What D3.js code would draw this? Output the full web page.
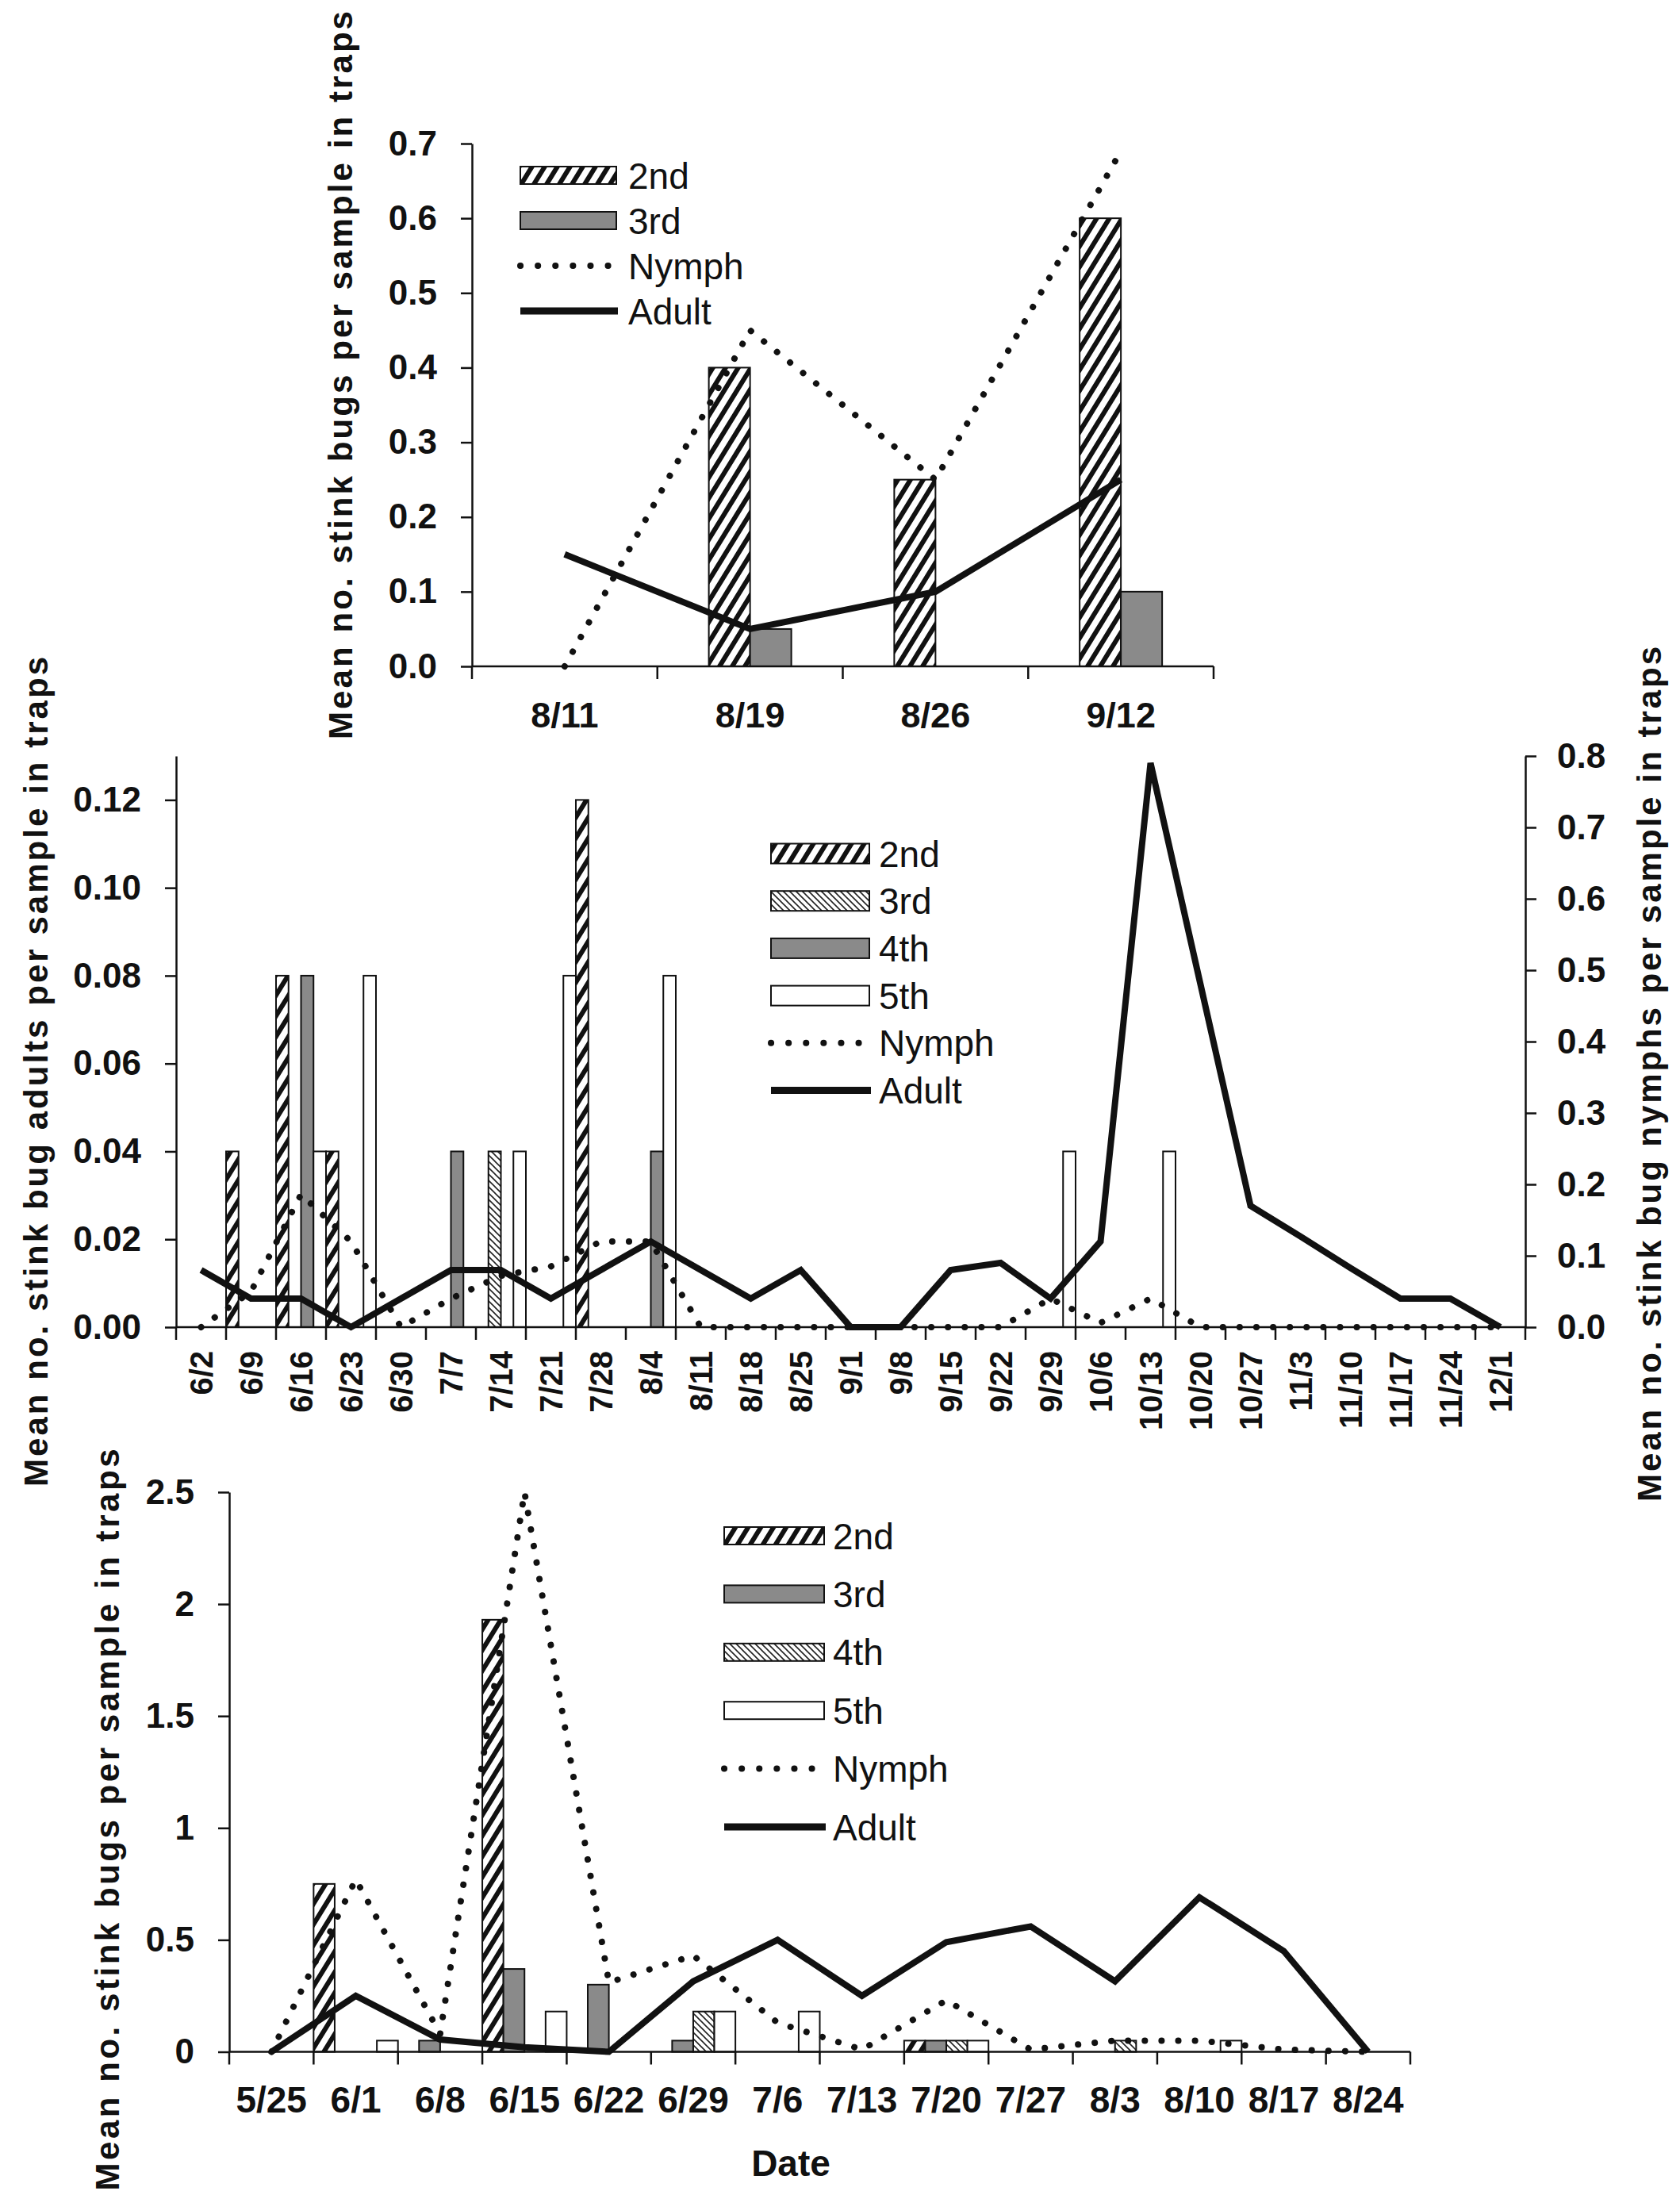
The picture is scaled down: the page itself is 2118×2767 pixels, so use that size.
<!DOCTYPE html>
<html><head><meta charset="utf-8">
<script src="https://cdn.jsdelivr.net/npm/d3@7"></script>
<style>
body{margin:0;background:#fff}
svg{display:block}
text{font-family:"Liberation Sans",Arial,sans-serif;fill:#111}
</style>
</head><body>
<script>
// ---------------- DATA ----------------
// Top panel
const topDates = ["8/11","8/19","8/26","9/12"];
const top2nd   = [0, 0.4, 0.25, 0.6];
const top3rd   = [0, 0.05, 0, 0.1];
const topNymph = [0, 0.45, 0.25, 0.69];
const topAdult = [0.15, 0.05, 0.1, 0.25];
const topYTicks = [0,0.1,0.2,0.3,0.4,0.5,0.6,0.7];

// Middle panel
const midDates = ["6/2","6/9","6/16","6/23","6/30","7/7","7/14","7/21","7/28","8/4","8/11","8/18","8/25","9/1","9/8","9/15","9/22","9/29","10/6","10/13","10/20","10/27","11/3","11/10","11/17","11/24","12/1"];
const mid2nd = [0,0.04,0.08,0.04,0,0,0,0,0.12,0,0,0,0,0,0,0,0,0,0,0,0,0,0,0,0,0,0];
const mid3rd = [0,0,0,0,0,0,0.04,0,0,0,0,0,0,0,0,0,0,0,0,0,0,0,0,0,0,0,0];
const mid4th = [0,0,0.08,0,0,0.04,0,0,0,0.04,0,0,0,0,0,0,0,0,0,0,0,0,0,0,0,0,0];
const mid5th = [0,0,0.04,0.08,0,0,0.04,0.08,0,0.08,0,0,0,0,0,0,0,0.04,0,0.04,0,0,0,0,0,0,0];
const midNymph = [0,0.05,0.186,0.12,0,0.04,0.072,0.085,0.12,0.12,0,0,0,0,0,0,0,0.04,0.006,0.04,0,0,0,0,0,0,0];
const midAdult = [0.08,0.04,0.04,0,0.04,0.08,0.08,0.04,0.08,0.12,0.08,0.04,0.08,0,0,0.08,0.09,0.04,0.12,0.79,0.48,0.17,0.127,0.083,0.04,0.04,0];
const midLeftTicks = [0,0.02,0.04,0.06,0.08,0.10,0.12];
const midRightTicks = [0,0.1,0.2,0.3,0.4,0.5,0.6,0.7,0.8];

// Bottom panel
const botDates = ["5/25","6/1","6/8","6/15","6/22","6/29","7/6","7/13","7/20","7/27","8/3","8/10","8/17","8/24"];
const bot2nd = [0,0.75,0,1.93,0,0,0,0,0.05,0,0,0,0,0];
const bot3rd = [0,0,0.05,0.37,0.3,0.05,0,0,0.05,0,0,0,0,0];
const bot4th = [0,0,0,0,0,0.18,0,0,0.05,0,0.05,0,0,0];
const bot5th = [0,0.05,0,0.18,0,0.18,0.18,0,0.05,0,0,0.05,0,0];
const botNymph = [0,0.77,0.08,2.5,0.31,0.43,0.13,0.01,0.23,0.01,0.05,0.05,0.01,0];
const botAdult = [0,0.25,0.055,0.02,0,0.315,0.5,0.25,0.49,0.56,0.315,0.69,0.45,0];
const botYTicks = [0,0.5,1,1.5,2,2.5];

// ---------------- DRAW ----------------
const W = 2118, H = 2767;
const INK = "#111", GRAY = "#8a8a8a";
const svg = d3.select("body").append("svg").attr("width", W).attr("height", H);
svg.append("rect").attr("width", W).attr("height", H).attr("fill", "#fff");
const defs = svg.append("defs");

// heavy upward diagonal hatch (2nd instar)
const ph = defs.append("pattern").attr("id","hatch2").attr("patternUnits","userSpaceOnUse")
  .attr("width",16).attr("height",26);
ph.append("rect").attr("width",16).attr("height",26).attr("fill","#fff");
ph.append("path").attr("d","M-4,32.5L20,-6.5M12,32.5L36,-6.5M-20,32.5L4,-6.5")
  .attr("stroke",INK).attr("stroke-width",6);
// fine downward diagonal hatch
const pf = defs.append("pattern").attr("id","hatchFine").attr("patternUnits","userSpaceOnUse")
  .attr("width",8).attr("height",8);
pf.append("rect").attr("width",8).attr("height",8).attr("fill","#fff");
pf.append("path").attr("d","M-2,-2L10,10M-2,6L2,10M6,-2L10,2")
  .attr("stroke","#222").attr("stroke-width",1.6);

function styleAxis(g, size) {
  g.attr("font-size", null).attr("font-family", null);
  g.selectAll("path,line").attr("stroke", INK).attr("stroke-width", 2.5);
  g.selectAll("text").style("font-size", size + "px").style("font-weight", "bold").attr("fill", INK);
}

function drawPanel(o) {
  const g = svg.append("g");
  const x = d3.scaleBand().domain(o.dates).range([o.x0, o.x1]).padding(0);
  const y = d3.scaleLinear().domain(o.yDomain).range([o.yBot, o.yTop]);
  const yLine = o.yLineDomain ? d3.scaleLinear().domain(o.yLineDomain).range([o.yBot, o.yTop]) : y;
  const sub = d3.scaleBand().domain(o.series.map(s => s.key)).range(o.subRange(x.bandwidth())).padding(0);

  // bars
  o.series.forEach(s => {
    const data = o.dates.map((d, i) => ({ d, v: s.values[i] })).filter(e => e.v > 0);
    g.append("g").selectAll("rect").data(data).join("rect")
      .attr("x", e => x(e.d) + sub(s.key))
      .attr("width", sub.bandwidth())
      .attr("y", e => y(e.v))
      .attr("height", e => y(0) - y(e.v))
      .attr("fill", s.fill).attr("stroke", INK).attr("stroke-width", 2);
  });

  // axes
  const yAx = g.append("g").attr("transform", `translate(${o.x0},0)`)
    .call(d3.axisLeft(y).tickValues(o.yTicks).tickFormat(o.yFmt).tickSize(14).tickSizeOuter(0).tickPadding(30));
  styleAxis(yAx, 44);
  if (o.yLineDomain) {
    const rAx = g.append("g").attr("transform", `translate(${o.x1},0)`)
      .call(d3.axisRight(yLine).tickValues(o.yRightTicks).tickFormat(d3.format(".1f")).tickSize(14).tickSizeOuter(0).tickPadding(26));
    styleAxis(rAx, 44);
  }
  g.append("line").attr("x1", o.x0).attr("x2", o.x1).attr("y1", o.yBot).attr("y2", o.yBot)
    .attr("stroke", INK).attr("stroke-width", 2.5);
  g.append("g").selectAll("line").data(d3.range(o.dates.length + 1)).join("line")
    .attr("x1", i => o.x0 + i * x.step()).attr("x2", i => o.x0 + i * x.step())
    .attr("y1", o.yBot).attr("y2", o.yBot + 16)
    .attr("stroke", INK).attr("stroke-width", 2.5);

  // x labels
  const cx = d => x(d) + x.bandwidth() / 2;
  if (o.rotateLabels) {
    g.append("g").selectAll("text").data(o.dates).join("text")
      .attr("transform", d => `translate(${cx(d)},${o.labelY}) rotate(-90)`)
      .attr("text-anchor", "end").attr("dy", "0.35em")
      .style("font-size", o.labelSize + "px").style("font-weight", "bold")
      .text(d => d);
  } else {
    g.append("g").selectAll("text").data(o.dates).join("text")
      .attr("x", cx).attr("y", o.labelY).attr("text-anchor", "middle").attr("dy", "0.35em")
      .style("font-size", o.labelSize + "px").style("font-weight", "bold")
      .text(d => d);
  }

  // lines
  const line = d3.line().x((v, i) => cx(o.dates[i])).y(v => yLine(v));
  g.append("path").datum(o.nymph).attr("d", line).attr("fill", "none")
    .attr("stroke", INK).attr("stroke-width", 8).attr("stroke-linecap", "round")
    .attr("stroke-dasharray", "0.1,21");
  g.append("path").datum(o.adult).attr("d", line).attr("fill", "none")
    .attr("stroke", INK).attr("stroke-width", 8).attr("stroke-linejoin", "miter");
}

function legend(items, x0, x1, textX, y0, step, sh) {
  const g = svg.append("g");
  items.forEach((it, i) => {
    const yy = y0 + i * step;
    if (it.type === "bar") {
      g.append("rect").attr("x", x0).attr("y", yy - sh / 2).attr("width", x1 - x0).attr("height", sh)
        .attr("fill", it.fill).attr("stroke", INK).attr("stroke-width", 2);
    } else if (it.type === "dot") {
      g.append("line").attr("x1", x0).attr("x2", x1 - 4).attr("y1", yy).attr("y2", yy)
        .attr("stroke", INK).attr("stroke-width", 8).attr("stroke-linecap", "round").attr("stroke-dasharray", "0.1,22");
    } else {
      g.append("line").attr("x1", x0).attr("x2", x1 + 2).attr("y1", yy).attr("y2", yy)
        .attr("stroke", INK).attr("stroke-width", 9);
    }
    g.append("text").attr("x", textX).attr("y", yy).attr("dy", "0.36em")
      .style("font-size", "46px").text(it.label);
  });
}

function vTitle(txt, x, yc, len) {
  svg.append("text").attr("transform", `translate(${x},${yc}) rotate(-90)`)
    .attr("text-anchor", "middle").style("font-size", "42px").style("font-weight", "bold")
    .attr("textLength", len).attr("lengthAdjust", "spacing").text(txt);
}

// Top panel
drawPanel({
  dates: topDates, x0: 595, x1: 1530, yTop: 181, yBot: 840, yDomain: [0, 0.7],
  yTicks: topYTicks, yFmt: d3.format(".1f"),
  subRange: bw => [bw / 2 - 52, bw / 2 + 52],
  series: [{ key: "2nd", values: top2nd, fill: "url(#hatch2)" }, { key: "3rd", values: top3rd, fill: GRAY }],
  nymph: topNymph, adult: topAdult, labelY: 901, labelSize: 45, rotateLabels: false
});
legend([{ label: "2nd", type: "bar", fill: "url(#hatch2)" }, { label: "3rd", type: "bar", fill: GRAY },
        { label: "Nymph", type: "dot" }, { label: "Adult", type: "line" }], 656, 777, 792, 221, 57, 22);
vTitle("Mean no. stink bugs per sample in traps", 444, 473, 918);

// Middle panel
drawPanel({
  dates: midDates, x0: 222, x1: 1923, yTop: 953, yBot: 1673, yDomain: [0, 0.13], yLineDomain: [0, 0.8],
  yTicks: midLeftTicks, yFmt: d3.format(".2f"), yRightTicks: midRightTicks,
  subRange: bw => [0, bw],
  series: [{ key: "2nd", values: mid2nd, fill: "url(#hatch2)" }, { key: "3rd", values: mid3rd, fill: "url(#hatchFine)" },
           { key: "4th", values: mid4th, fill: GRAY }, { key: "5th", values: mid5th, fill: "#fff" }],
  nymph: midNymph, adult: midAdult, labelY: 1703, labelSize: 40, rotateLabels: true
});
legend([{ label: "2nd", type: "bar", fill: "url(#hatch2)" }, { label: "3rd", type: "bar", fill: "url(#hatchFine)" },
        { label: "4th", type: "bar", fill: GRAY }, { label: "5th", type: "bar", fill: "#fff" },
        { label: "Nymph", type: "dot" }, { label: "Adult", type: "line" }], 972, 1096, 1108, 1076, 59.7, 25);
vTitle("Mean no. stink bug adults per sample in traps", 60, 1351, 1046);
vTitle("Mean no. stink bug nymphs per sample in traps", 2094, 1354, 1078);

// Bottom panel
drawPanel({
  dates: botDates, x0: 289, x1: 1778, yTop: 1881, yBot: 2586.5, yDomain: [0, 2.5],
  yTicks: botYTicks, yFmt: d => String(d),
  subRange: bw => [0, bw],
  series: [{ key: "2nd", values: bot2nd, fill: "url(#hatch2)" }, { key: "3rd", values: bot3rd, fill: GRAY },
           { key: "4th", values: bot4th, fill: "url(#hatchFine)" }, { key: "5th", values: bot5th, fill: "#fff" }],
  nymph: botNymph, adult: botAdult, labelY: 2647, labelSize: 46, rotateLabels: false
});
legend([{ label: "2nd", type: "bar", fill: "url(#hatch2)" }, { label: "3rd", type: "bar", fill: GRAY },
        { label: "4th", type: "bar", fill: "url(#hatchFine)" }, { label: "5th", type: "bar", fill: "#fff" },
        { label: "Nymph", type: "dot" }, { label: "Adult", type: "line" }], 913, 1039, 1050, 1936, 73.4, 22);
vTitle("Mean no. stink bugs per sample in traps", 150, 2294, 935);
svg.append("text").attr("x", 997).attr("y", 2727).attr("dy", "0.35em").attr("text-anchor", "middle")
  .style("font-size", "46px").style("font-weight", "bold").text("Date");
</script>
</body></html>
